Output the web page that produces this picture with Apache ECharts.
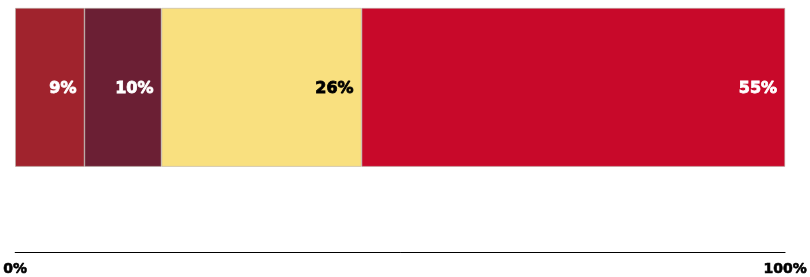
<!DOCTYPE html>
<html><head><meta charset="utf-8">
<script src="https://cdn.jsdelivr.net/npm/echarts@6/dist/echarts.min.js"></script>
<style>html,body{margin:0;padding:0;background:#fff}#c{width:810px;height:277px}</style>
</head><body><div id="c"></div>
<script>
const categories = [''];
const seriesNames = ['A', 'B', 'C', 'D'];
const seriesValues = [9, 10, 26, 55];
const seriesColors = ['#A0232D', '#6B1F34', '#F9E07F', '#C8092A'];
const labelColors = ['#ffffff', '#ffffff', '#000000', '#ffffff'];
const tickLabels = ['0%', '100%'];

const chart = echarts.init(document.getElementById('c'));
chart.setOption({
  animation: false,
  grid: { left: 13, right: 24, top: 8, bottom: 108, containLabel: false },
  xAxis: {
    type: 'value', min: 0, max: 100, interval: 100,
    position: 'bottom', offset: 86,
    axisLine: { show: true, lineStyle: { color: '#000', width: 1 } },
    axisTick: { show: false },
    splitLine: { show: false },
    axisLabel: {
      margin: 10,
      formatter: v => v === 0 ? tickLabels[0] : tickLabels[1],
      color: '#000', fontFamily: 'DejaVu Sans', fontWeight: 'bold', fontSize: 14,
      textBorderColor: '#000', textBorderWidth: 0.6
    }
  },
  yAxis: {
    type: 'category', data: categories,
    axisLine: { show: false }, axisTick: { show: false }, axisLabel: { show: false }
  },
  series: seriesValues.map((v, i) => ({
    name: seriesNames[i], type: 'bar', stack: 'total', barWidth: '100%',
    data: [v],
    itemStyle: { color: seriesColors[i], borderColor: '#b8b2aa', borderWidth: 0.6 },
    label: {
      show: true, position: 'insideRight', distance: 8, offset: [0, 1],
      formatter: '{c}%', color: labelColors[i],
      fontFamily: 'DejaVu Sans', fontWeight: 'bold', fontSize: 16,
      textBorderColor: labelColors[i], textBorderWidth: 0.8
    }
  }))
});
</script></body></html>
